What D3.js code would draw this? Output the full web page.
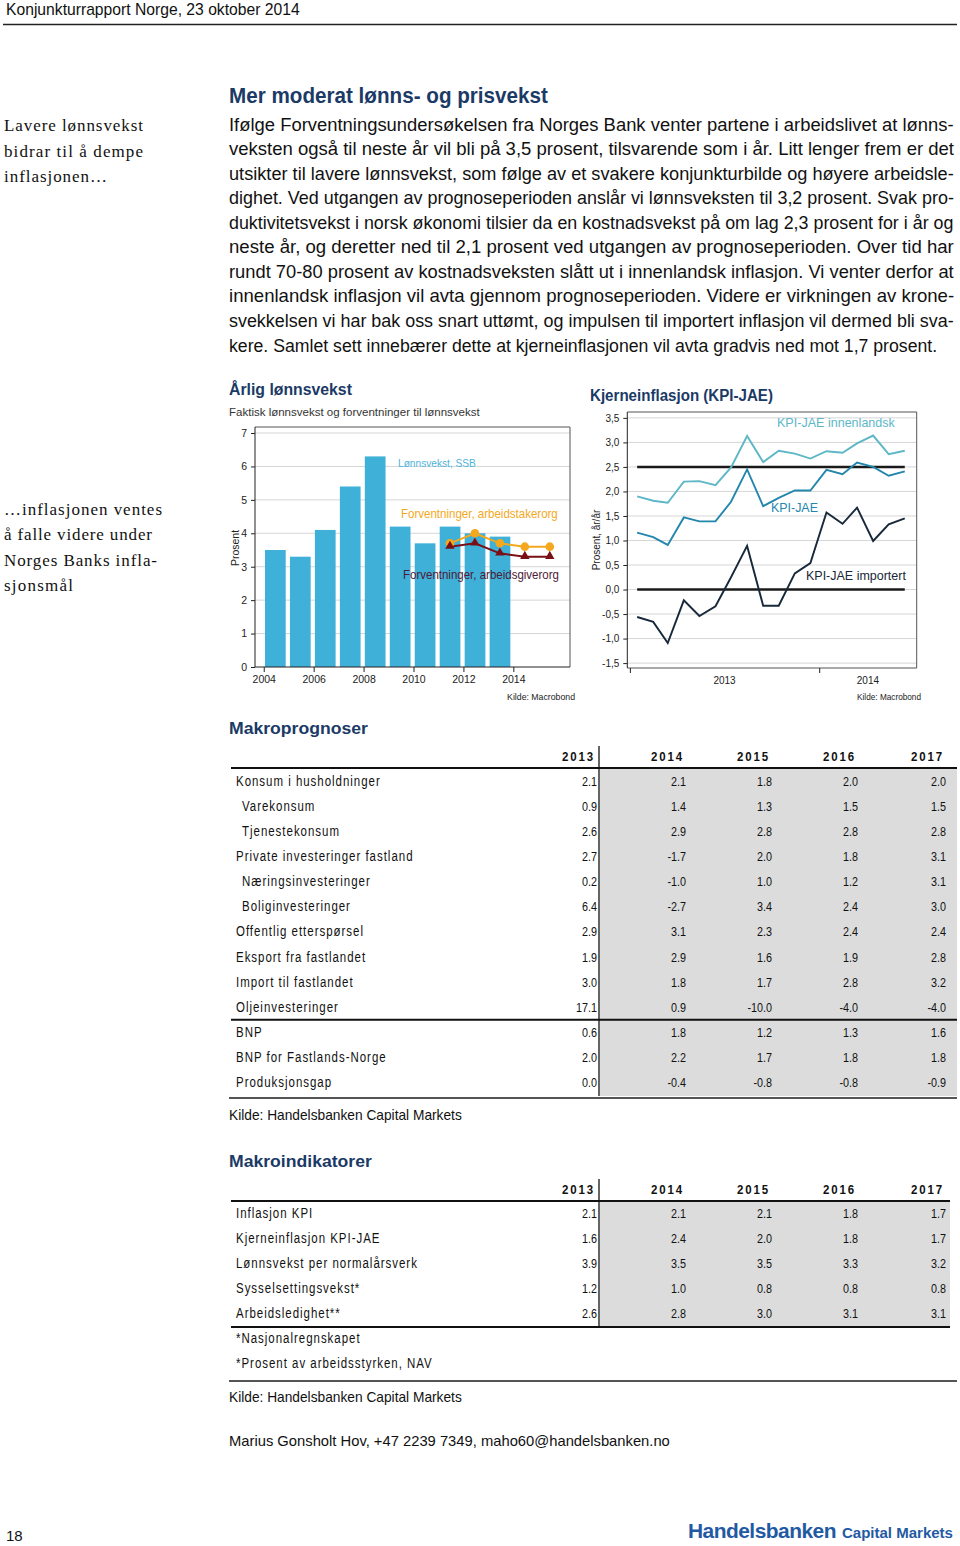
<!DOCTYPE html>
<html><head><meta charset="utf-8">
<script src="https://cdn.jsdelivr.net/npm/d3@7"></script>
<style>html,body{margin:0;padding:0;background:#fff;}svg{display:block;}</style>
</head><body>
<svg id="page" width="960" height="1546"></svg>
<script>
// ---------- DATA ----------
const bodyLines = [
 "Ifølge Forventningsundersøkelsen fra Norges Bank venter partene i arbeidslivet at lønns-",
 "veksten også til neste år vil bli på 3,5 prosent, tilsvarende som i år. Litt lenger frem er det",
 "utsikter til lavere lønnsvekst, som følge av et svakere konjunkturbilde og høyere arbeidsle-",
 "dighet. Ved utgangen av prognoseperioden anslår vi lønnsveksten til 3,2 prosent. Svak pro-",
 "duktivitetsvekst i norsk økonomi tilsier da en kostnadsvekst på om lag 2,3 prosent for i år og",
 "neste år, og deretter ned til 2,1 prosent ved utgangen av prognoseperioden. Over tid har",
 "rundt 70-80 prosent av kostnadsveksten slått ut i innenlandsk inflasjon. Vi venter derfor at",
 "innenlandsk inflasjon vil avta gjennom prognoseperioden. Videre er virkningen av krone-",
 "svekkelsen vi har bak oss snart uttømt, og impulsen til importert inflasjon vil dermed bli sva-",
 "kere. Samlet sett innebærer dette at kjerneinflasjonen vil avta gradvis ned mot 1,7 prosent."
];
const sideNote1 = ["Lavere lønnsvekst", "bidrar til å dempe", "inflasjonen…"];
const sideNote2 = ["…inflasjonen ventes", "å falle videre under", "Norges Banks infla-", "sjonsmål"];

// Bar chart: Årlig lønnsvekst
const wageYears = [2004, 2005, 2006, 2007, 2008, 2009, 2010, 2011, 2012, 2013];
const wageSSB = [3.5, 3.3, 4.1, 5.4, 6.3, 4.2, 3.7, 4.2, 4.0, 3.9];
const expYears = [2011, 2012, 2013, 2014, 2015];
const expArbeidstaker = [3.7, 4.0, 3.7, 3.6, 3.6];
const expArbeidsgiver = [3.6, 3.7, 3.4, 3.3, 3.3];
const wageYTicks = [0, 1, 2, 3, 4, 5, 6, 7];
const wageXTicks = [2004, 2006, 2008, 2010, 2012, 2014];

// Line chart: Kjerneinflasjon
const kpiMonths = ["2013-01","2013-02","2013-03","2013-04","2013-05","2013-06","2013-07","2013-08","2013-09",
 "2013-10","2013-11","2013-12","2014-01","2014-02","2014-03","2014-04","2014-05","2014-06"];
const kpiInnenlandsk = [1.90, 1.81, 1.77, 2.20, 2.21, 2.13, 2.49, 3.13, 2.60, 2.83, 2.77, 2.67, 2.82, 2.79, 2.98, 3.14, 2.76, 2.83];
const kpiJae = [1.16, 1.07, 0.91, 1.47, 1.39, 1.39, 1.79, 2.45, 1.70, 1.87, 2.02, 2.02, 2.44, 2.35, 2.59, 2.50, 2.32, 2.41];
const kpiImportert = [-0.56, -0.66, -1.09, -0.22, -0.54, -0.34, 0.25, 0.89, -0.33, -0.33, 0.33, 0.54, 1.57, 1.34, 1.67, 0.99, 1.33, 1.45];
const kpiRefLines = [2.5, 0.0];
const kpiYTicks = [-1.5, -1.0, -0.5, 0.0, 0.5, 1.0, 1.5, 2.0, 2.5, 3.0, 3.5];
const kpiYearLabels = ["2013", "2014"];

// Tables
const tableYears = ["2013", "2014", "2015", "2016", "2017"];
const progLabels = ["Konsum i husholdninger","Varekonsum","Tjenestekonsum","Private investeringer fastland",
 "Næringsinvesteringer","Boliginvesteringer","Offentlig etterspørsel","Eksport fra fastlandet",
 "Import til fastlandet","Oljeinvesteringer","BNP","BNP for Fastlands-Norge","Produksjonsgap"];
const progIndent = [0,1,1,0,1,1,0,0,0,0,0,0,0];
const progValues = [
 [2.1, 2.1, 1.8, 2.0, 2.0],
 [0.9, 1.4, 1.3, 1.5, 1.5],
 [2.6, 2.9, 2.8, 2.8, 2.8],
 [2.7, -1.7, 2.0, 1.8, 3.1],
 [0.2, -1.0, 1.0, 1.2, 3.1],
 [6.4, -2.7, 3.4, 2.4, 3.0],
 [2.9, 3.1, 2.3, 2.4, 2.4],
 [1.9, 2.9, 1.6, 1.9, 2.8],
 [3.0, 1.8, 1.7, 2.8, 3.2],
 [17.1, 0.9, -10.0, -4.0, -4.0],
 [0.6, 1.8, 1.2, 1.3, 1.6],
 [2.0, 2.2, 1.7, 1.8, 1.8],
 [0.0, -0.4, -0.8, -0.8, -0.9]
];
const indLabels = ["Inflasjon KPI","Kjerneinflasjon KPI-JAE","Lønnsvekst per normalårsverk","Sysselsettingsvekst*","Arbeidsledighet**"];
const indValues = [
 [2.1, 2.1, 2.1, 1.8, 1.7],
 [1.6, 2.4, 2.0, 1.8, 1.7],
 [3.9, 3.5, 3.5, 3.3, 3.2],
 [1.2, 1.0, 0.8, 0.8, 0.8],
 [2.6, 2.8, 3.0, 3.1, 3.1]
];
const indNotes = ["*Nasjonalregnskapet", "*Prosent av arbeidsstyrken, NAV"];

// ---------- STYLE ----------
const SANS = "'Liberation Sans',Arial,Helvetica,sans-serif";
const SERIF = "'Liberation Serif','Times New Roman',serif";
const NAVY = "#1b3a66";
const BAR = "#3fb0d8";
const ORANGE = "#f4a81d";
const DRED = "#7a1016";
const C_INN = "#5db7c7";
const C_JAE = "#2386ad";
const C_IMP = "#17283a";

const svg = d3.select("#page");

// text helper; when a target width is given the text is fitted by a horizontal scale
function txt(parent, x, y, s, o = {}) {
  const t = parent.append("text").text(s)
    .attr("font-family", o.family || SANS)
    .attr("font-size", o.size || 12)
    .attr("fill", o.fill || "#222");
  if (o.weight) t.attr("font-weight", o.weight);
  if (o.anchor) t.attr("text-anchor", o.anchor);
  if (o.ls) t.attr("letter-spacing", o.ls);
  if (o.width && o.adjust === "spacing") {
    t.attr("x", x).attr("y", y).attr("textLength", o.width).attr("lengthAdjust", "spacing");
  } else if (o.width) {
    t.attr("x", 0).attr("y", 0);
    const len = t.node().getComputedTextLength() || o.width;
    t.attr("transform", `translate(${x},${y}) scale(${o.width / len},1)`);
  } else {
    t.attr("x", x).attr("y", y);
    if (o.rotate) t.attr("transform", `rotate(${o.rotate},${x},${y})`);
  }
  return t;
}
// horizontally condensed text (Arial Narrow look)
function ntxt(parent, x, y, s, o = {}) {
  const t = parent.append("text").attr("x", 0).attr("y", 0).text(s)
    .attr("transform", `translate(${x},${y}) scale(${o.sx || 0.82},1)`)
    .attr("font-family", SANS).attr("font-size", o.size || 14).attr("fill", o.fill || "#111");
  if (o.weight) t.attr("font-weight", o.weight);
  if (o.anchor) t.attr("text-anchor", o.anchor);
  if (o.ls) t.attr("letter-spacing", o.ls);
  return t;
}

// ---------- HEADER ----------
txt(svg, 6, 14.5, "Konjunkturrapport Norge, 23 oktober 2014", {size: 16, fill: "#111", width: 294});
svg.append("line").attr("x1", 3).attr("x2", 957).attr("y1", 24.5).attr("y2", 24.5).attr("stroke", "#222").attr("stroke-width", 1.5);

txt(svg, 229, 103, "Mer moderat lønns- og prisvekst", {size: 22, weight: "bold", fill: NAVY, width: 319});
bodyLines.forEach((l, i) => {
  const last = i === bodyLines.length - 1;
  txt(svg, 229, 130.5 + i * 24.56, l, {size: 18.5, fill: "#111", width: last ? 709 : 725});
});

sideNote1.forEach((l, i) => {
  const w = [139, 139, 103][i];
  txt(svg, 4, 131 + i * 25.5, l, {family: SERIF, size: 17, fill: "#111", width: w, adjust: "spacing"});
});
sideNote2.forEach((l, i) => {
  const w = [158, 148, 153, 69][i];
  txt(svg, 4, 515 + i * 25.3, l, {family: SERIF, size: 17, fill: "#111", width: w, adjust: "spacing"});
});

// ---------- BAR CHART ----------
{
  const g = svg.append("g");
  txt(g, 229, 395, "Årlig lønnsvekst", {size: 17, weight: "bold", fill: NAVY, width: 123});
  txt(g, 229, 416, "Faktisk lønnsvekst og forventninger til lønnsvekst", {size: 11, fill: "#333", width: 251});

  const L = 255, R = 570, T = 427, B = 667;
  const x = d3.scaleLinear().domain([2003.65, 2016.27]).range([L, R]);
  const y = d3.scaleLinear().domain([0, 7.18]).range([B, T]);

  g.append("g").selectAll("line").data(wageYTicks.filter(d => d > 0)).join("line")
    .attr("x1", L).attr("x2", R).attr("y1", d => y(d)).attr("y2", d => y(d))
    .attr("stroke", "#d6d6d6").attr("stroke-width", 1);

  g.append("g").selectAll("rect").data(wageYears).join("rect")
    .attr("x", d => x(d + 0.05)).attr("width", d => x(d + 0.88) - x(d + 0.05))
    .attr("y", (d, i) => y(wageSSB[i])).attr("height", (d, i) => y(0) - y(wageSSB[i]))
    .attr("fill", BAR);

  g.append("path").attr("d", `M${L},${T}H${R}V${B}`).attr("fill", "none").attr("stroke", "#555").attr("stroke-width", 1);

  const yAxis = d3.axisLeft(y).tickValues(wageYTicks).tickSize(4).tickPadding(4).tickFormat(d3.format("d"));
  const ya = g.append("g").attr("transform", `translate(${L},0)`).call(yAxis);
  ya.select(".domain").attr("d", `M0,${T}V${B}`).attr("stroke", "#222");
  ya.selectAll("text").attr("font-family", SANS).attr("font-size", 10.5).attr("fill", "#222");
  ya.selectAll(".tick line").attr("stroke", "#222");

  const xAxis = d3.axisBottom(x).tickValues(wageXTicks).tickSize(5).tickPadding(4).tickFormat(d3.format("d"));
  const xa = g.append("g").attr("transform", `translate(0,${B})`).call(xAxis);
  xa.select(".domain").attr("d", `M${L},0H${R}`).attr("stroke", "#222");
  xa.selectAll("text").attr("font-family", SANS).attr("font-size", 10.5).attr("fill", "#222");
  xa.selectAll(".tick line").attr("stroke", "#222");

  txt(g, 239, 548, "Prosent", {size: 10.5, fill: "#222", anchor: "middle", rotate: -90});

  const line = d3.line().x(d => x(d[0] + 0.46)).y(d => y(d[1]));
  const sT = expYears.map((d, i) => [d, expArbeidstaker[i]]);
  const sG = expYears.map((d, i) => [d, expArbeidsgiver[i]]);
  g.append("path").attr("d", line(sT)).attr("fill", "none").attr("stroke", ORANGE).attr("stroke-width", 2);
  g.append("path").attr("d", line(sG)).attr("fill", "none").attr("stroke", DRED).attr("stroke-width", 2);
  g.append("g").selectAll("circle").data(sT).join("circle")
    .attr("cx", d => x(d[0] + 0.46)).attr("cy", d => y(d[1])).attr("r", 4.3).attr("fill", ORANGE);
  const tri = d3.symbol().type(d3.symbolTriangle).size(38);
  g.append("g").selectAll("path").data(sG).join("path")
    .attr("transform", d => `translate(${x(d[0] + 0.46)},${y(d[1]) - 0.5})`).attr("d", tri).attr("fill", DRED);

  txt(g, 398, 467, "Lønnsvekst, SSB", {size: 11, fill: "#4fb4da", width: 78});
  txt(g, 401, 518, "Forventninger, arbeidstakerorg", {size: 12, fill: ORANGE, width: 157});
  txt(g, 403, 579, "Forventninger, arbeidsgiverorg", {size: 12, fill: "#4d1a38", width: 156});
  txt(g, 575, 700, "Kilde: Macrobond", {size: 9, fill: "#222", anchor: "end", width: 68});
}

// ---------- LINE CHART ----------
{
  const g = svg.append("g");
  txt(g, 590, 401, "Kjerneinflasjon (KPI-JAE)", {size: 17, weight: "bold", fill: NAVY, width: 183});

  const L = 627.3, R = 916.7, T = 412, B = 668;
  const parse = d3.timeParse("%Y-%m-%d");
  const dates = kpiMonths.map(m => parse(m + "-15"));
  const x = d3.scaleTime().domain([new Date(2012, 11, 27), new Date(2014, 6, 8)]).range([L, R]);
  const y = d3.scaleLinear().domain([-1.6, 3.62]).range([B, T]);

  g.append("g").selectAll("line").data(kpiYTicks).join("line")
    .attr("x1", L).attr("x2", R).attr("y1", d => y(d)).attr("y2", d => y(d))
    .attr("stroke", "#d6d6d6").attr("stroke-width", 1);

  g.append("path").attr("d", `M${L},${T}H${R}V${B}H${L}`).attr("fill", "none").attr("stroke", "#555").attr("stroke-width", 1);

  const fmt = d => d3.format(".1f")(d).replace(".", ",").replace("−", "-");
  const yAxis = d3.axisLeft(y).tickValues(kpiYTicks).tickSize(4).tickPadding(4).tickFormat(fmt);
  const ya = g.append("g").attr("transform", `translate(${L},0)`).call(yAxis);
  ya.select(".domain").attr("d", `M0,${T}V${B}`).attr("stroke", "#222");
  ya.selectAll("text").attr("font-family", SANS).attr("font-size", 10).attr("fill", "#222");
  ya.selectAll(".tick line").attr("stroke", "#222");

  const yearStarts = [new Date(2013, 0, 1), new Date(2014, 0, 1)];
  const xAxis = d3.axisBottom(x).tickValues(yearStarts).tickSize(5).tickFormat("");
  const xa = g.append("g").attr("transform", `translate(0,${B})`).call(xAxis);
  xa.select(".domain").remove();
  xa.selectAll(".tick line").attr("stroke", "#222");
  const labelEdges = [[yearStarts[0], yearStarts[1]], [yearStarts[1], x.domain()[1]]];
  kpiYearLabels.forEach((lab, i) => {
    const cx = (x(labelEdges[i][0]) + x(labelEdges[i][1])) / 2;
    txt(g, cx, 684, lab, {size: 10, fill: "#222", anchor: "middle"});
  });

  txt(g, 600, 540, "Prosent, år/år", {size: 10, fill: "#222", anchor: "middle", rotate: -90});

  kpiRefLines.forEach(v => {
    g.append("line").attr("x1", x(dates[0])).attr("x2", x(dates[dates.length - 1]))
      .attr("y1", y(v)).attr("y2", y(v)).attr("stroke", "#1a1a1a").attr("stroke-width", 2.4);
  });

  const line = d3.line().x((d, i) => x(dates[i])).y(d => y(d));
  [[kpiInnenlandsk, C_INN], [kpiJae, C_JAE], [kpiImportert, C_IMP]].forEach(([s, c]) => {
    g.append("path").attr("d", line(s)).attr("fill", "none").attr("stroke", c)
      .attr("stroke-width", 1.9).attr("stroke-linejoin", "miter");
  });

  txt(g, 777, 427, "KPI-JAE innenlandsk", {size: 12.5, fill: C_INN, width: 118});
  txt(g, 771, 512, "KPI-JAE", {size: 12.5, fill: C_JAE, width: 47});
  txt(g, 806, 580, "KPI-JAE importert", {size: 12.5, fill: C_IMP, width: 100});
  txt(g, 921, 700, "Kilde: Macrobond", {size: 9, fill: "#222", anchor: "end", width: 64});
}

// ---------- TABLES ----------
const colRight = [597, 686, 772, 858, 946];
const vfmt = d => d3.format(".1f")(d).replace("−", "-");
function drawTable(o) {
  const g = svg.append("g");
  txt(g, 229, o.titleY, o.title, {size: 17, weight: "bold", fill: NAVY, width: o.titleW});
  const rowY = i => o.firstRow + i * o.step;
  const lastRowBottom = rowY(o.labels.length - 1) + 9;
  g.append("rect").attr("x", 600).attr("y", o.headerLine).attr("width", o.right - 600)
    .attr("height", lastRowBottom - o.headerLine).attr("fill", "#dcdcdc");
  tableYears.forEach((yr, i) => {
    ntxt(g, colRight[i] - 2, o.headerY, yr, {size: 13.5, weight: "bold", anchor: "end", ls: 2.2, sx: 0.85});
  });
  g.append("line").attr("x1", 231).attr("x2", o.right).attr("y1", o.headerLine).attr("y2", o.headerLine)
    .attr("stroke", "#111").attr("stroke-width", 2);
  g.append("line").attr("x1", 599).attr("x2", 599).attr("y1", o.headerY - 15).attr("y2", lastRowBottom)
    .attr("stroke", "#111").attr("stroke-width", 1.3);
  o.labels.forEach((lab, r) => {
    ntxt(g, (o.indent && o.indent[r]) ? 242 : 236, rowY(r), lab, {size: 14, ls: 1.2});
    o.values[r].forEach((v, c) => {
      ntxt(g, colRight[c], rowY(r), vfmt(v), {size: 13.5, anchor: "end", sx: 0.8});
    });
  });
  if (o.midLineAfter != null) {
    const yy = rowY(o.midLineAfter) + 8;
    g.append("line").attr("x1", 231).attr("x2", o.right).attr("y1", yy).attr("y2", yy).attr("stroke", "#111").attr("stroke-width", 2);
  }
  if (o.bottomBlack) {
    g.append("line").attr("x1", 231).attr("x2", o.right).attr("y1", lastRowBottom).attr("y2", lastRowBottom)
      .attr("stroke", "#111").attr("stroke-width", 2);
  }
  return {g, lastRowBottom};
}

{
  const t = drawTable({title: "Makroprognoser", titleY: 734, titleW: 139, headerY: 761, headerLine: 768,
    firstRow: 786, step: 25.08, labels: progLabels, indent: progIndent, values: progValues, right: 957, midLineAfter: 9});
  t.g.append("line").attr("x1", 229).attr("x2", 957).attr("y1", 1098).attr("y2", 1098).attr("stroke", "#555").attr("stroke-width", 2);
  txt(t.g, 229, 1120, "Kilde: Handelsbanken Capital Markets", {size: 14, fill: "#111", width: 233});
}
{
  const t = drawTable({title: "Makroindikatorer", titleY: 1167, titleW: 143, headerY: 1194, headerLine: 1201,
    firstRow: 1218, step: 25.0, labels: indLabels, values: indValues, right: 950, bottomBlack: true});
  indNotes.forEach((n, i) => ntxt(t.g, 236, 1343 + i * 25, n, {size: 14, ls: 1.2}));
  t.g.append("line").attr("x1", 229).attr("x2", 957).attr("y1", 1381).attr("y2", 1381).attr("stroke", "#555").attr("stroke-width", 2);
  txt(t.g, 229, 1402, "Kilde: Handelsbanken Capital Markets", {size: 14, fill: "#111", width: 233});
}

// ---------- FOOTER ----------
txt(svg, 229, 1446, "Marius Gonsholt Hov, +47 2239 7349, maho60@handelsbanken.no", {size: 14.5, fill: "#111", width: 441});
txt(svg, 6, 1541, "18", {size: 15, fill: "#111"});
txt(svg, 688, 1538, "Handelsbanken", {size: 20, weight: "900", fill: "#1f5aa3", width: 148, ls: -0.5});
txt(svg, 842, 1538, "Capital Markets", {size: 14.5, weight: "900", fill: "#1f5aa3", width: 111});
</script>
</body></html>
